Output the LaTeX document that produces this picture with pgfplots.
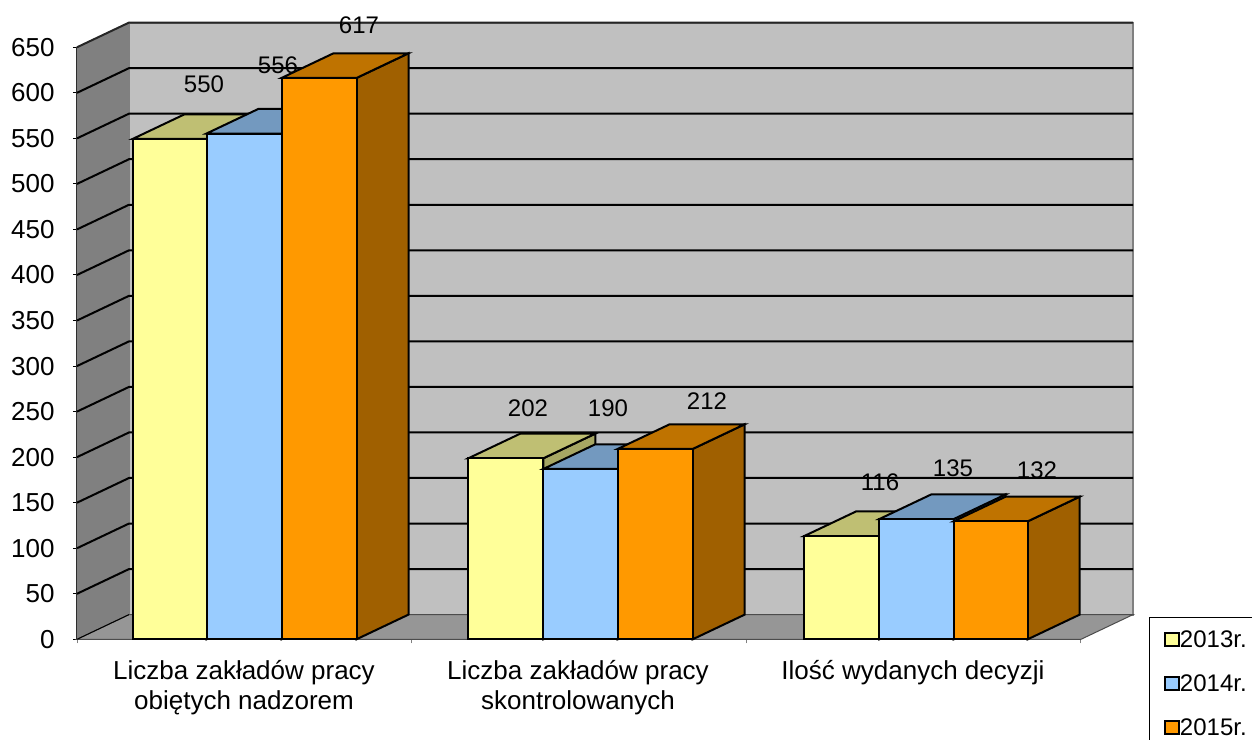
\documentclass[border=0pt]{standalone}
\usepackage{fontspec}
\setmainfont{Liberation Sans}
\usepackage{pgfplots}
\pgfplotsset{compat=1.18}
\definecolor{wallback}{HTML}{C0C0C0}
\definecolor{wallside}{HTML}{808080}
\definecolor{floorc}{HTML}{969696}
\definecolor{yf}{HTML}{FFFF99}\definecolor{yt}{HTML}{BFBF73}\definecolor{ys}{HTML}{A6A663}
\definecolor{bf}{HTML}{99CCFF}\definecolor{bt}{HTML}{7399BF}\definecolor{bs}{HTML}{668CB3}
\definecolor{of}{HTML}{FF9900}\definecolor{ot}{HTML}{BF7300}\definecolor{os}{HTML}{A06000}
\newcommand{\chfont}{\fontsize{24.1}{30.1}\selectfont}
\newcommand{\tkfont}{\fontsize{26.1}{30.1}\selectfont}
\begin{document}
\begin{tikzpicture}[x=1bp,y=1bp]
\path[use as bounding box] (0,0) rectangle (1252,740);
\begin{axis}[
  at={(77bp,100.7bp)}, anchor=south west,
  scale only axis, width=1004bp, height=592bp,
  xmin=77, xmax=1081, ymin=0, ymax=650,
  clip=false,
  axis lines=left,
  axis line style={-, line width=2.2bp, black},
  /pgf/number format/assume math mode=true,
  ytick={0,50,100,150,200,250,300,350,400,450,500,550,600,650},
  xtick={77,411,746,1080},
  xticklabels={},
  extra x ticks={244,578,913},
  extra x tick labels={{Liczba zakładów pracy\\obiętych nadzorem},{Liczba zakładów pracy\\skontrolowanych},{Ilość wydanych decyzji\\\mbox{}}},
  extra x tick style={major tick length=0pt,
     tick label style={align=center,font=\tkfont,yshift=-18bp}},
  major tick length=8bp,
  y tick style={black,line width=1bp},
  x tick style={gray,line width=1bp},
  tick label style={font=\tkfont},
  y tick label style={xshift=-15bp},
  every axis plot/.append style={forget plot},
  face/.style={draw=black,line width=2bp,line join=miter,mark=none,forget plot},
  legend style={at={(1.0677,0.0372)},anchor=north west,draw=black,line width=1bp,
    inner xsep=14.5bp,inner ysep=13bp,
    row sep=25.5bp,
    font=\chfont,
    nodes={inner sep=0pt}},
  legend cell align=left,
]
% walls and floor
\addplot[draw=wallside,fill=wallside,line width=1bp,mark=none,forget plot] coordinates {(77,0)(129,27.1)(129,677.1)(77,650)} --cycle;
\addplot[draw=wallside,fill=wallback,line width=2bp,mark=none,forget plot] coordinates {(129,27.1)(129,677.1)(1133,677.1)(1133,27.1)} --cycle;
\addplot[draw=black!70,fill=floorc,line width=1bp,mark=none,forget plot] coordinates {(77,0)(129,27.1)(1133,27.1)(1081,0)} --cycle;
% gridlines
\addplot[black,line width=2bp,mark=none,forget plot] coordinates {(77,50)(129,77.1)(1133,77.1)};
\addplot[black,line width=2bp,mark=none,forget plot] coordinates {(77,100)(129,127.1)(1133,127.1)};
\addplot[black,line width=2bp,mark=none,forget plot] coordinates {(77,150)(129,177.1)(1133,177.1)};
\addplot[black,line width=2bp,mark=none,forget plot] coordinates {(77,200)(129,227.1)(1133,227.1)};
\addplot[black,line width=2bp,mark=none,forget plot] coordinates {(77,250)(129,277.1)(1133,277.1)};
\addplot[black,line width=2bp,mark=none,forget plot] coordinates {(77,300)(129,327.1)(1133,327.1)};
\addplot[black,line width=2bp,mark=none,forget plot] coordinates {(77,350)(129,377.1)(1133,377.1)};
\addplot[black,line width=2bp,mark=none,forget plot] coordinates {(77,400)(129,427.1)(1133,427.1)};
\addplot[black,line width=2bp,mark=none,forget plot] coordinates {(77,450)(129,477.1)(1133,477.1)};
\addplot[black,line width=2bp,mark=none,forget plot] coordinates {(77,500)(129,527.1)(1133,527.1)};
\addplot[black,line width=2bp,mark=none,forget plot] coordinates {(77,550)(129,577.1)(1133,577.1)};
\addplot[black,line width=2bp,mark=none,forget plot] coordinates {(77,600)(129,627.1)(1133,627.1)};
\addplot[black!85,line width=2bp,mark=none,forget plot] coordinates {(77,650)(129,677.1)(1133,677.1)};
\addplot[black,line width=1bp,mark=none,forget plot] coordinates {(77,0)(129,27.1)};
% group 1
\addplot[face,fill=ys] coordinates {(206.5,0)(258.5,27.1)(258.5,576.4)(206.5,549.3)} --cycle;
\addplot[face,fill=yt] coordinates {(132.5,549.3)(184.5,576.4)(258.5,576.4)(206.5,549.3)} --cycle;
\addplot[face,fill=yf] coordinates {(132.5,0)(132.5,549.3)(206.5,549.3)(206.5,0)} --cycle;
\addplot[face,fill=bs] coordinates {(281.5,0)(333.5,27.1)(333.5,582.4)(281.5,555.3)} --cycle;
\addplot[face,fill=bt] coordinates {(206.5,555.3)(258.5,582.4)(333.5,582.4)(281.5,555.3)} --cycle;
\addplot[face,fill=bf] coordinates {(206.5,0)(206.5,555.3)(281.5,555.3)(281.5,0)} --cycle;
\addplot[face,fill=os] coordinates {(356.5,0)(408.5,27.1)(408.5,643.4)(356.5,616.3)} --cycle;
\addplot[face,fill=ot] coordinates {(281.5,616.3)(333.5,643.4)(408.5,643.4)(356.5,616.3)} --cycle;
\addplot[face,fill=of] coordinates {(281.5,0)(281.5,616.3)(356.5,616.3)(356.5,0)} --cycle;
% group 2
\addplot[face,fill=ys] coordinates {(543.3,0)(595.3,27.1)(595.3,225.8)(543.3,198.7)} --cycle;
\addplot[face,fill=yt] coordinates {(468.3,198.7)(520.3,225.8)(595.3,225.8)(543.3,198.7)} --cycle;
\addplot[face,fill=yf] coordinates {(468.3,0)(468.3,198.7)(543.3,198.7)(543.3,0)} --cycle;
\addplot[face,fill=bs] coordinates {(617.7,0)(669.7,27.1)(669.7,214.1)(617.7,187)} --cycle;
\addplot[face,fill=bt] coordinates {(543.3,187)(595.3,214.1)(669.7,214.1)(617.7,187)} --cycle;
\addplot[face,fill=bf] coordinates {(543.3,0)(543.3,187)(617.7,187)(617.7,0)} --cycle;
\addplot[face,fill=os] coordinates {(692.7,0)(744.7,27.1)(744.7,236.1)(692.7,209)} --cycle;
\addplot[face,fill=ot] coordinates {(617.7,209)(669.7,236.1)(744.7,236.1)(692.7,209)} --cycle;
\addplot[face,fill=of] coordinates {(617.7,0)(617.7,209)(692.7,209)(692.7,0)} --cycle;
% group 3
\addplot[face,fill=ys] coordinates {(879.3,0)(931.3,27.1)(931.3,140.5)(879.3,113.4)} --cycle;
\addplot[face,fill=yt] coordinates {(804.3,113.4)(856.3,140.5)(931.3,140.5)(879.3,113.4)} --cycle;
\addplot[face,fill=yf] coordinates {(804.3,0)(804.3,113.4)(879.3,113.4)(879.3,0)} --cycle;
\addplot[face,fill=bs] coordinates {(953.7,0)(1005.7,27.1)(1005.7,159.1)(953.7,132)} --cycle;
\addplot[face,fill=bt] coordinates {(879.3,132)(931.3,159.1)(1005.7,159.1)(953.7,132)} --cycle;
\addplot[face,fill=bf] coordinates {(879.3,0)(879.3,132)(953.7,132)(953.7,0)} --cycle;
\addplot[face,fill=os] coordinates {(1027.7,0)(1079.7,27.1)(1079.7,156.6)(1027.7,129.5)} --cycle;
\addplot[face,fill=ot] coordinates {(953.7,129.5)(1005.7,156.6)(1079.7,156.6)(1027.7,129.5)} --cycle;
\addplot[face,fill=of] coordinates {(953.7,0)(953.7,129.5)(1027.7,129.5)(1027.7,0)} --cycle;
% printed value labels
\addplot[only marks,mark=none,forget plot,
  nodes near coords,point meta=explicit symbolic,
  every node near coord/.style={anchor=center,font=\chfont,inner sep=0pt,black}]
  table[meta=label,row sep=\\] {
  x y label\\
  204 609.7 550\\
  278 630.5 556\\
  359 674.5 617\\
  528 254.0 202\\
  608 254.0 190\\
  707 261.6 212\\
  880 172.7 116\\
  953 188.1 135\\
  1037 185.1 132\\
  };
\addlegendimage{legend image code/.code={\draw[black,line width=2bp,fill=yf] (0bp,-6.5bp) rectangle (14bp,6.5bp);}}
\addlegendentry{2013r.}
\addlegendimage{legend image code/.code={\draw[black,line width=2bp,fill=bf] (0bp,-6.5bp) rectangle (14bp,6.5bp);}}
\addlegendentry{2014r.}
\addlegendimage{legend image code/.code={\draw[black,line width=2bp,fill=of] (0bp,-6.5bp) rectangle (14bp,6.5bp);}}
\addlegendentry{2015r.}
\end{axis}
\end{tikzpicture}
\end{document}
